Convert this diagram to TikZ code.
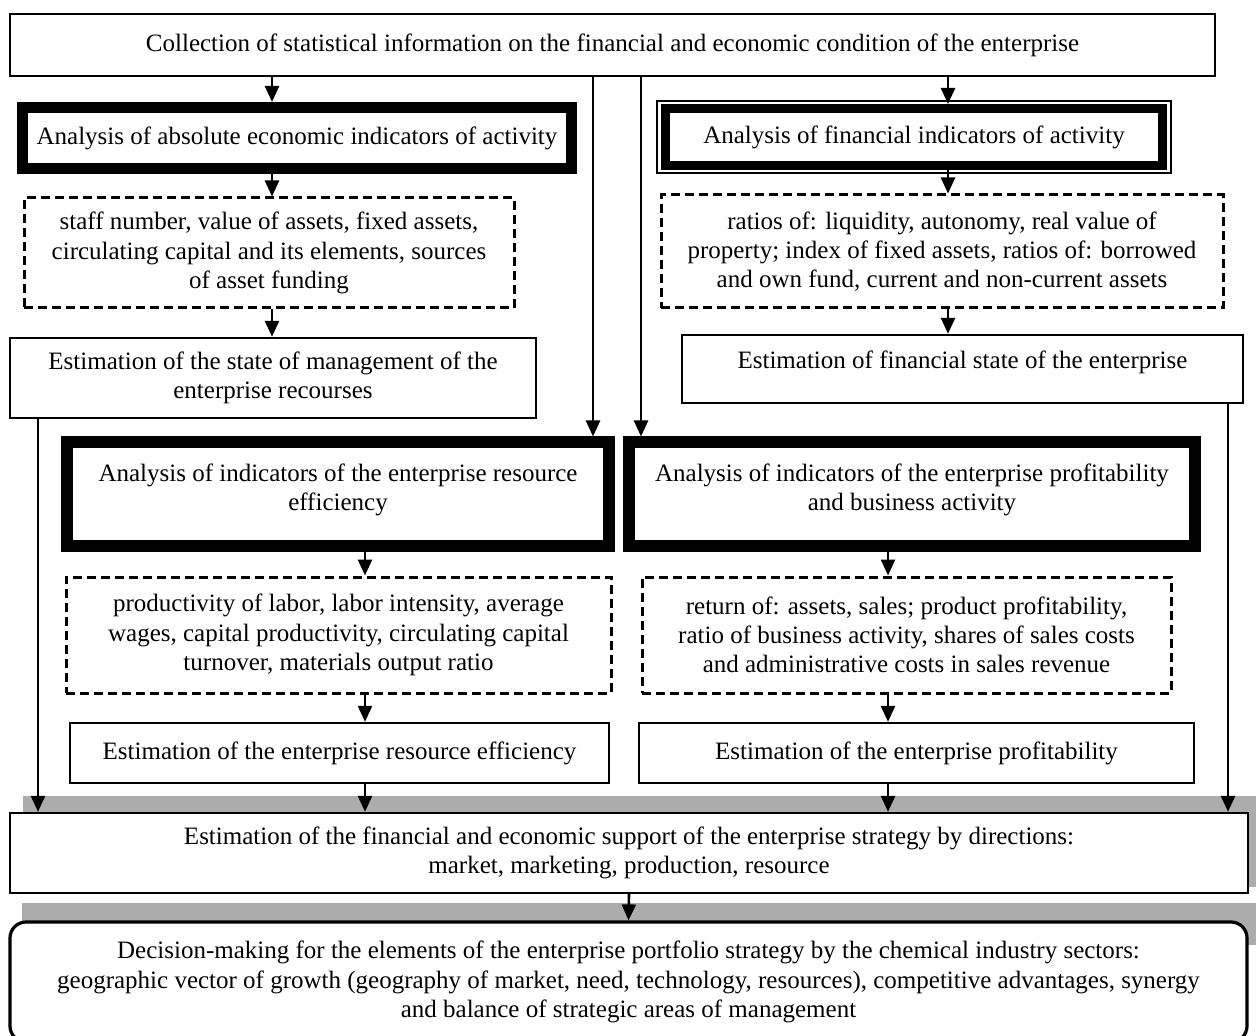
\documentclass[tikz,border=0pt]{standalone}
\usepackage{fontspec}
\setmainfont{Liberation Serif}
\usetikzlibrary{arrows.meta}

\begin{document}
\begin{tikzpicture}[x=0.5pt, y=-0.5pt,
  font=\fontsize{12.5}{14.6}\selectfont,
  box/.style={draw, line width=1.2pt, fill=white, align=center, inner sep=0pt},
  heavybox/.style={draw, line width=6pt, fill=white, align=center, inner sep=0pt},
  dashbox/.style={draw, line width=1.5pt, dash pattern=on 4.5pt off 2.5pt, align=center, inner sep=0pt},
  arr/.style={line width=1.3pt, -{Triangle[length=8pt,width=7pt]}},
  shade/.style={fill=gray!65, draw=none}]

\useasboundingbox (0,0) rectangle (1256,1036);
\fill[white] (0,0) rectangle (1256,1036);

% columns used by the connectors
\coordinate (xA) at (38,0);
\coordinate (xB) at (272,0);
\coordinate (xC) at (365,0);
\coordinate (xD) at (593,0);
\coordinate (xE) at (641,0);
\coordinate (xF) at (888,0);
\coordinate (xG) at (948,0);
\coordinate (xH) at (1228,0);

% grey bands behind the two lower boxes
\fill[shade] (23,796) rectangle (1256,887);
\fill[shade] (22,903) rectangle (1256,945);

% top
\node[box, minimum width=602.5pt, minimum height=31pt] (collect) at (612.5,45)
  {Collection of statistical information on the financial and economic condition of the enterprise};

% left column
\node[heavybox, line width=5.5pt, minimum width=274.5pt, minimum height=30.5pt] (absolute) at (297,138)
  {Analysis of absolute economic indicators of activity};
\node[dashbox, minimum width=245pt, minimum height=55pt] (absdata) at (269,253)
  {staff number, value of assets, fixed assets,\\ circulating capital and its elements, sources\\ of asset funding};
\node[box, minimum width=263pt, minimum height=40pt] (resmgmt) at (273,378)
  {Estimation of the state of management of the\\ enterprise recourses};

% right column
\node[heavybox, line width=4.5pt, minimum width=248.5pt, minimum height=28.5pt] (financial) at (914,137)
  {Analysis of financial indicators of activity};
\draw[line width=0.8pt] ([shift={(-4,-3)}]financial.north west) rectangle ([shift={(4,3)}]financial.south east);
\node[dashbox, minimum width=281pt, minimum height=56.5pt] (findata) at (942,251.5)
  {ratios of: liquidity, autonomy, real value of\\ property; index of fixed assets, ratios of: borrowed\\ and own fund, current and non-current assets};
\node[box, minimum width=280.5pt, minimum height=34pt, text depth=9pt] (finstate) at (962.5,369)
  {Estimation of financial state of the enterprise};

% middle row
\node[heavybox, text depth=7pt, minimum width=271pt, minimum height=51.5pt] (reseff) at (338,494)
  {Analysis of indicators of the enterprise resource\\ efficiency};
\node[heavybox, text depth=7pt, minimum width=283pt, minimum height=51.5pt] (profit) at (912,494)
  {Analysis of indicators of the enterprise profitability\\ and business activity};
\node[dashbox, minimum width=272.5pt, minimum height=58pt] (resdata) at (338.5,635)
  {productivity of labor, labor intensity, average\\ wages, capital productivity, circulating capital\\ turnover, materials output ratio};
\node[dashbox, minimum width=264.5pt, minimum height=58pt] (profdata) at (906.5,635)
  {return of: assets, sales; product profitability,\\ ratio of business activity, shares of sales costs\\ and administrative costs in sales revenue};
\node[box, minimum width=269.5pt, minimum height=30pt] (reseffest) at (339.5,753)
  {Estimation of the enterprise resource efficiency};
\node[box, minimum width=277.5pt, minimum height=30pt] (profest) at (916.5,753)
  {Estimation of the enterprise profitability};

% bottom
\node[box, minimum width=619pt, minimum height=40pt] (support) at (629,853)
  {Estimation of the financial and economic support of the enterprise strategy by directions:\\ market, marketing, production, resource};
\node[box, line width=1.6pt, rounded corners=8pt, minimum width=618.5pt, minimum height=60pt] (decide) at (628.5,982)
  {Decision-making for the elements of the enterprise portfolio strategy by the chemical industry sectors:\\
   geographic vector of growth (geography of market, need, technology, resources), competitive advantages, synergy\\
   and balance of strategic areas of management};

% connectors
\draw[arr] (collect.south -| xB) -- (absolute.north -| xB);
\draw[arr] (collect.south -| xG) -- (financial.north -| xG);
\draw[arr] (collect.south -| xD) -- (reseff.north -| xD);
\draw[arr] (collect.south -| xE) -- (profit.north -| xE);
\draw[arr] (absolute.south -| xB) -- (absdata.north -| xB);
\draw[arr] (absdata.south -| xB) -- (resmgmt.north -| xB);
\draw[arr] (financial.south -| xG) -- (findata.north -| xG);
\draw[arr] (findata.south -| xG) -- (finstate.north -| xG);
\draw[arr] (reseff.south -| xC) -- (resdata.north -| xC);
\draw[arr] (resdata.south -| xC) -- (reseffest.north -| xC);
\draw[arr] (profit.south -| xF) -- (profdata.north -| xF);
\draw[arr] (profdata.south -| xF) -- (profest.north -| xF);
\foreach \n/\c in {resmgmt/xA, reseffest/xC, profest/xF, finstate/xH}
  \draw[arr] (\n.south -| \c) -- (support.north -| \c);
\draw[arr] (support.south) -- (decide.north);

\end{tikzpicture}
\end{document}
